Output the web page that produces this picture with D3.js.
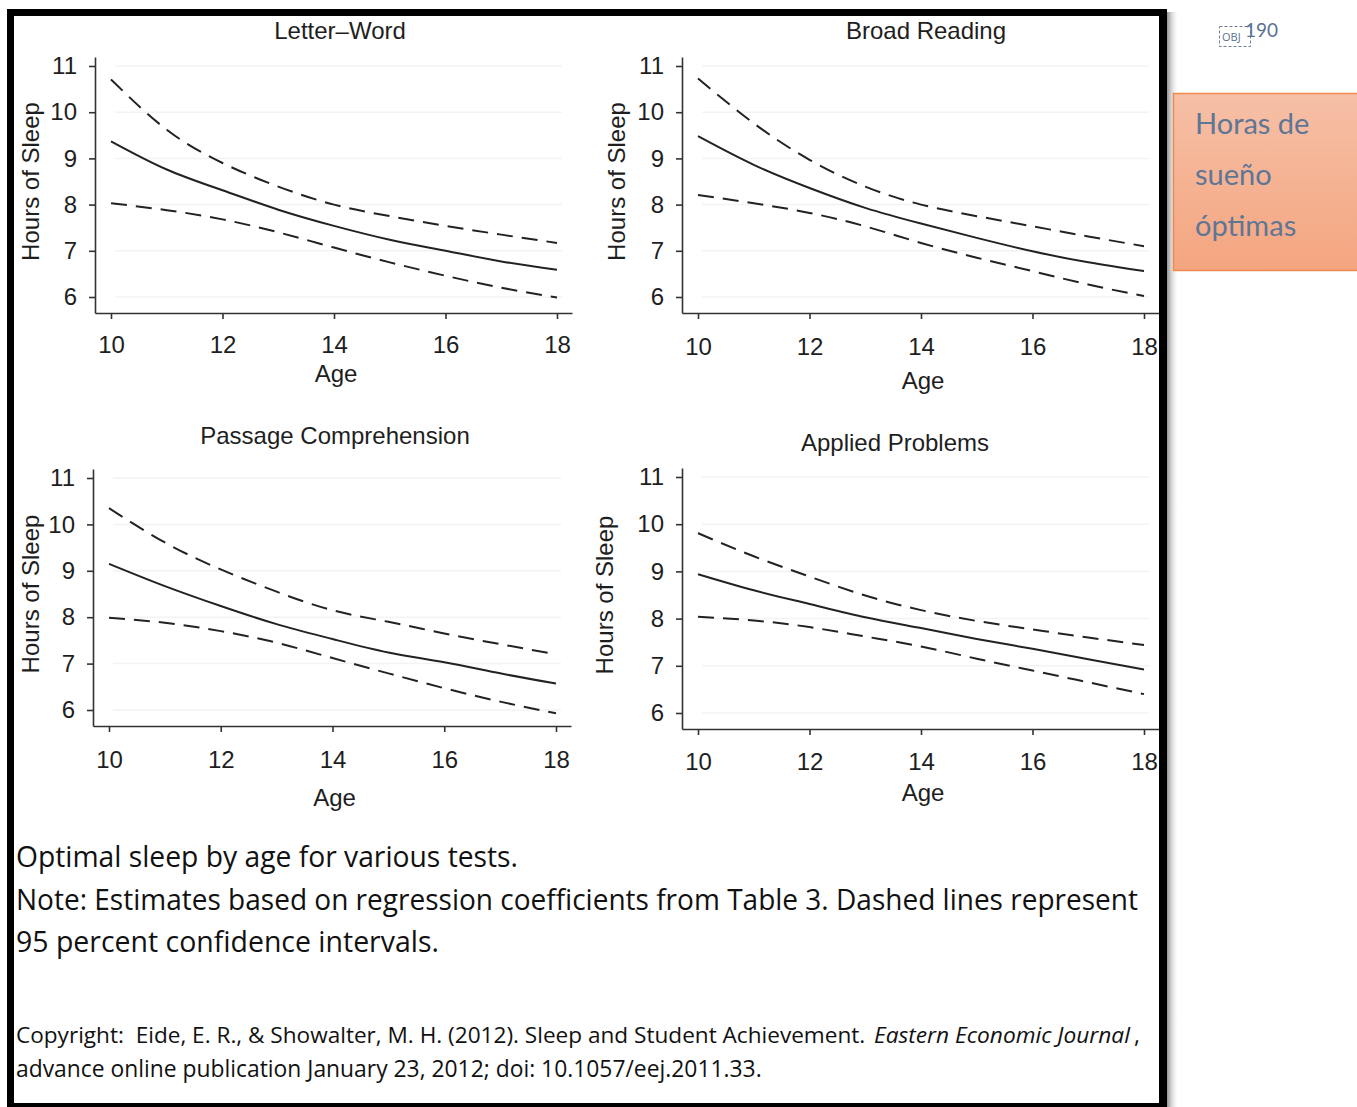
<!DOCTYPE html>
<html>
<head>
<meta charset="utf-8">
<script src="https://cdn.jsdelivr.net/npm/d3@7"></script>
<style>
    body { margin: 0; background: #fff; }
    .panel text { font-family: "Liberation Sans", Arial, sans-serif; fill: #1e1e1e; }
    .axis path, .axis line { stroke: #333; stroke-width: 1.6; }
    .caption { font-family: "Open Sans", sans-serif; fill: #111; }
</style>
</head>
<body>
<div id="chart"></div>
<script>
// ages along the x axis, read every year off the curves
var ages = [10, 11, 12, 13, 14, 15, 16, 17, 18];
var xTickValues = [10, 12, 14, 16, 18];
var yTickValues = [6, 7, 8, 9, 10, 11];
var testNames = ["Letter\u2013Word", "Broad Reading", "Passage Comprehension", "Applied Problems"];

// hours of sleep: fitted line and 95% bounds (dashed)
var letterWordFit   = [9.37, 8.76, 8.31, 7.89, 7.54, 7.24, 7.00, 6.77, 6.59];
var letterWordUpper = [10.71, 9.62, 8.90, 8.39, 8.00, 7.75, 7.54, 7.35, 7.17];
var letterWordLower = [8.03, 7.88, 7.68, 7.40, 7.07, 6.75, 6.46, 6.20, 5.99];

var broadReadingFit   = [9.48, 8.86, 8.36, 7.93, 7.59, 7.28, 6.99, 6.75, 6.56];
var broadReadingUpper = [10.73, 9.76, 8.97, 8.39, 8.00, 7.75, 7.53, 7.31, 7.10];
var broadReadingLower = [8.21, 8.03, 7.82, 7.53, 7.17, 6.85, 6.56, 6.27, 6.02];

var passageFit   = [9.15, 8.67, 8.24, 7.85, 7.53, 7.24, 7.03, 6.79, 6.57];
var passageUpper = [10.35, 9.61, 9.03, 8.55, 8.15, 7.90, 7.65, 7.42, 7.20];
var passageLower = [7.99, 7.88, 7.70, 7.45, 7.12, 6.79, 6.47, 6.18, 5.93];

var appliedFit   = [8.94, 8.60, 8.31, 8.03, 7.80, 7.57, 7.36, 7.14, 6.92];
var appliedUpper = [9.81, 9.32, 8.89, 8.49, 8.18, 7.95, 7.77, 7.60, 7.44];
var appliedLower = [8.04, 7.96, 7.82, 7.62, 7.41, 7.15, 6.90, 6.65, 6.40];

var captionLines = [
    "Optimal sleep by age for various tests.",
    "Note: Estimates based on regression coefficients from Table 3. Dashed lines represent",
    "95 percent confidence intervals."
];
var sideNote = ["Horas de", "sue\u00f1o", "\u00f3ptimas"];

var series = [
    [letterWordFit, letterWordUpper, letterWordLower],
    [broadReadingFit, broadReadingUpper, broadReadingLower],
    [passageFit, passageUpper, passageLower],
    [appliedFit, appliedUpper, appliedLower]
];

// where each small chart sits on the page
var layout = [
    { x10: 111, x18: 557, y11: 66, y6: 297, titleX: 340, titleY: 31, labelX: 30, ageY: 374, pad: 17 },
    { x10: 698, x18: 1144, y11: 66, y6: 297, titleX: 926, titleY: 31, labelX: 616, ageY: 381, pad: 19 },
    { x10: 109, x18: 556, y11: 478, y6: 710, titleX: 335, titleY: 436, labelX: 30, ageY: 798, pad: 19 },
    { x10: 698, x18: 1144, y11: 477, y6: 713, titleX: 895, titleY: 443, labelX: 604, ageY: 793, pad: 18 }
];

var W = 1357, H = 1107;
var svg = d3.select("#chart").append("svg")
    .attr("width", W)
    .attr("height", H);

var defs = svg.append("defs");
var shade = defs.append("linearGradient").attr("id", "shade");
shade.append("stop").attr("offset", "0%").attr("stop-color", "#777").attr("stop-opacity", 0.8);
shade.append("stop").attr("offset", "100%").attr("stop-color", "#fff").attr("stop-opacity", 0);
var peach = defs.append("linearGradient").attr("id", "peach")
    .attr("x1", 0).attr("y1", 0).attr("x2", 0).attr("y2", 1);
peach.append("stop").attr("offset", "0%").attr("stop-color", "#f6c0a7");
peach.append("stop").attr("offset", "100%").attr("stop-color", "#f4a57f");

svg.append("rect").attr("width", W).attr("height", H).attr("fill", "#fff");

series.forEach(function (s, i) {
    var L = layout[i];
    var g = svg.append("g").attr("class", "panel");

    var x = d3.scaleLinear().domain([10, 18]).range([L.x10, L.x18]);
    var y = d3.scaleLinear().domain([6, 11]).range([L.y6, L.y11]);

    var axisX = L.x10 - 16;       // y axis position
    var axisY = L.y6 + 16;        // x axis position
    var rightEnd = L.x18 + 15;
    var topEnd = L.y11 - 9;

    // faint grid like the scanned original
    g.selectAll(".grid").data(yTickValues).join("line")
        .attr("x1", axisX + 20).attr("x2", rightEnd - 10)
        .attr("y1", d => y(d)).attr("y2", d => y(d))
        .attr("stroke", "#f3f3f3").attr("stroke-width", 1.5);

    var xa = x.copy().domain([x.invert(axisX), x.invert(rightEnd)]).range([axisX, rightEnd]);
    var ya = y.copy().domain([y.invert(axisY), y.invert(topEnd)]).range([axisY, topEnd]);

    g.append("g")
        .attr("class", "axis")
        .attr("transform", "translate(0," + axisY + ")")
        .call(d3.axisBottom(xa).tickValues(xTickValues).tickFormat(d3.format("d"))
            .tickSize(6).tickSizeOuter(0).tickPadding(L.pad))
        .call(a => a.selectAll("text").attr("font-size", 24).attr("fill", "#1e1e1e"));

    g.append("g")
        .attr("class", "axis")
        .attr("transform", "translate(" + axisX + ",0)")
        .call(d3.axisLeft(ya).tickValues(yTickValues).tickFormat(d3.format("d"))
            .tickSize(6).tickSizeOuter(0).tickPadding(12))
        .call(a => a.selectAll("text").attr("font-size", 24).attr("fill", "#1e1e1e"));

    g.selectAll(".axis text").attr("font-family", "Liberation Sans, Arial, sans-serif");

    var line = d3.line()
        .x((d, k) => x(ages[k]))
        .y(d => y(d))
        .curve(d3.curveNatural);

    s.forEach(function (vals, j) {
        g.append("path")
            .datum(vals)
            .attr("fill", "none")
            .attr("stroke", "#222")
            .attr("stroke-width", 2)
            .attr("stroke-dasharray", j === 0 ? null : "16,9")
            .attr("d", line);
    });

    g.append("text")
        .attr("x", L.titleX).attr("y", L.titleY + 8)
        .attr("text-anchor", "middle")
        .attr("font-size", 24)
        .text(testNames[i]);

    g.append("text")
        .attr("x", (L.x10 + L.x18) / 2 + 2).attr("y", L.ageY + 8)
        .attr("text-anchor", "middle")
        .attr("font-size", 24)
        .text("Age");

    g.append("text")
        .attr("transform", "translate(" + (L.labelX + 8.5) + "," + ((L.y11 + L.y6) / 2) + ") rotate(-90)")
        .attr("text-anchor", "middle")
        .attr("font-size", 24)
        .text("Hours of Sleep");
});

// caption under the charts
var capWidths = [502, 1122, 423];
captionLines.forEach(function (t, i) {
    svg.append("text")
        .attr("class", "caption")
        .attr("x", 16).attr("y", 867 + i * 42.5)
        .attr("font-size", 30)
        .attr("textLength", capWidths[i])
        .attr("lengthAdjust", "spacingAndGlyphs")
        .text(t);
});

// shrink the font until a text fits its width
function fitText(sel, size, w) {
    sel.attr("font-size", size);
    var len = sel.node().getComputedTextLength();
    if (len > w) sel.attr("font-size", size * w / len);
}

// citation, split so the italic journal name keeps its own width
var citeParts = [
    { t: "Copyright:\u00a0 Eide, E. R., & Showalter, M. H. (2012). Sleep and Student Achievement.", x: 16, w: 850, italic: false },
    { t: "Eastern Economic Journal", x: 874, w: 256, italic: true },
    { t: ",", x: 1134, w: 6, italic: false }
];
citeParts.forEach(function (p) {
    var t = svg.append("text")
        .attr("class", "caption")
        .attr("x", p.x).attr("y", 1043)
        .attr("font-style", p.italic ? "italic" : null)
        .text(p.t);
    fitText(t, 25, p.w);
});

var cite2 = svg.append("text")
    .attr("class", "caption")
    .attr("x", 16).attr("y", 1077)
    .text("advance online publication January 23, 2012; doi: 10.1057/eej.2011.33.");
fitText(cite2, 25, 746);

// black frame with a soft shadow on the right
svg.append("rect").attr("x", 1167).attr("y", 12).attr("width", 12).attr("height", H - 12)
    .attr("fill", "url(#shade)");
svg.append("rect").attr("x", 1162).attr("y", 0).attr("width", 5).attr("height", H).attr("fill", "#fff");
var frame = svg.append("g").attr("fill", "#000");
frame.append("rect").attr("x", 7).attr("y", 9).attr("width", 1160).attr("height", 7);
frame.append("rect").attr("x", 7).attr("y", 9).attr("width", 7).attr("height", H - 9);
frame.append("rect").attr("x", 1159).attr("y", 9).attr("width", 8).attr("height", H - 9);
frame.append("rect").attr("x", 7).attr("y", 1103).attr("width", 1160).attr("height", 4);

// object marker and page number
svg.append("rect")
    .attr("x", 1219.5).attr("y", 26.5).attr("width", 31).attr("height", 20)
    .attr("fill", "none").attr("stroke", "#6a7f9c").attr("stroke-width", 1)
    .attr("stroke-dasharray", "3,2");
svg.append("text")
    .attr("x", 1222).attr("y", 41)
    .attr("font-family", "Open Sans, sans-serif").attr("font-size", 11)
    .attr("fill", "#5b7193")
    .text("OBJ");
svg.append("text")
    .attr("x", 1245).attr("y", 37)
    .attr("font-family", "Lato, sans-serif").attr("font-size", 19)
    .attr("fill", "#5b7193")
    .text("190");

// side note box
svg.append("rect")
    .attr("x", 1173.5).attr("y", 93.5).attr("width", 190).attr("height", 177)
    .attr("fill", "url(#peach)")
    .attr("stroke", "#ee8a4d").attr("stroke-width", 1.5);
sideNote.forEach(function (t, i) {
    svg.append("text")
        .attr("x", 1195).attr("y", 134 + i * 51)
        .attr("font-family", "Lato, sans-serif")
        .attr("font-size", 29)
        .attr("fill", "#5e7696")
        .text(t);
});
</script>
</body>
</html>
